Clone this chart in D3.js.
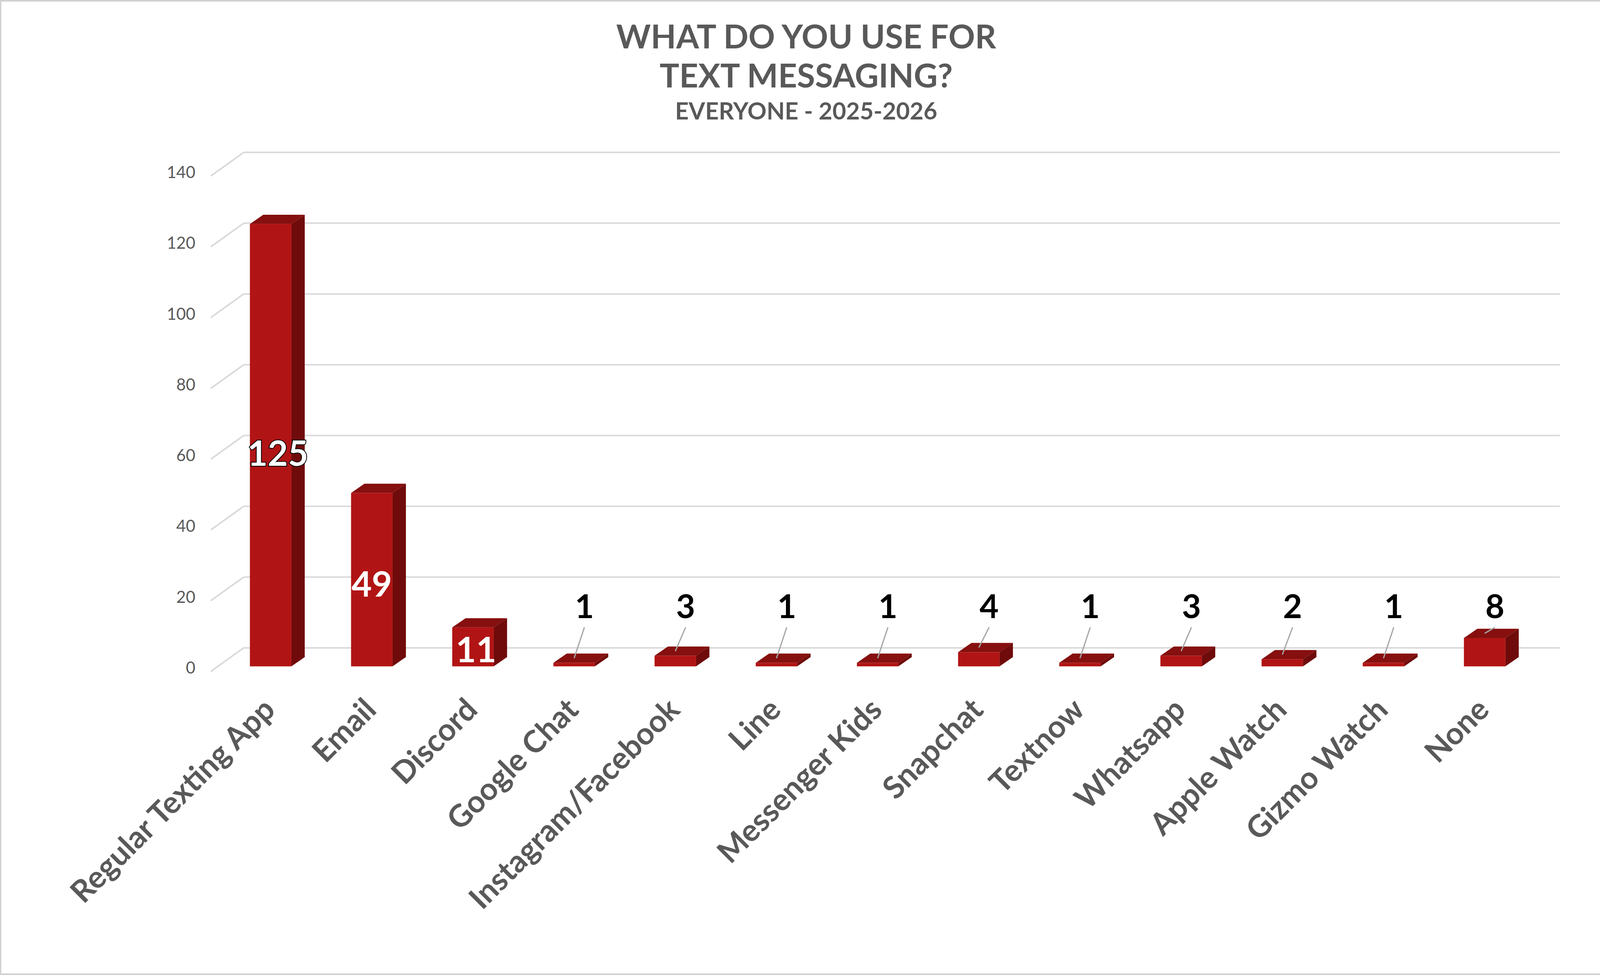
<!DOCTYPE html>
<html><head><meta charset="utf-8">
<script src="https://cdn.jsdelivr.net/npm/d3@7"></script>
<style>html,body{margin:0;padding:0;background:#fff}</style>
</head><body>
<script>
const categories = ["Regular Texting App","Email","Discord","Google Chat","Instagram/Facebook","Line","Messenger Kids","Snapchat","Textnow","Whatsapp","Apple Watch","Gizmo Watch","None"];
const values = [125,49,11,1,3,1,1,4,1,3,2,1,8];
const yTicks = [0,20,40,60,80,100,120,140];
const titleLines = ["WHAT DO YOU USE FOR","TEXT MESSAGING?"];
const subtitle = "EVERYONE - 2025-2026";

const W=1567,H=948;
const svg=d3.select("body").append("svg").attr("width",4125).attr("height",2497).attr("viewBox",`0 0 ${W} ${H}`);
svg.append("rect").attr("x",0.5).attr("y",0.5).attr("width",W-1).attr("height",H-1).attr("fill","#fff").attr("stroke","#d0d0d0").attr("stroke-width",1.5);
const font="Lato, 'DejaVu Sans', sans-serif";
const grey="#595959";

// front plane scale and back wall offset
const y=d3.scaleLinear().domain([0,140]).range([653,171]);
const wallDX=32, wallDY=-23;
const x=d3.scaleBand().domain(categories).range([214,1493]).paddingInner(0.59).paddingOuter(0.295);
const barDX=13, barDY=-9, barShiftY=-5;

// gridlines
const g=svg.append("g");
yTicks.forEach(t=>{
  const yf=y(t);
  g.append("line").attr("x1",205).attr("y1",yf).attr("x2",205+wallDX).attr("y2",yf+wallDY).attr("stroke","#d9d9d9").attr("stroke-width",1.5);
  g.append("line").attr("x1",205+wallDX).attr("y1",yf+wallDY).attr("x2",1517).attr("y2",yf+wallDY).attr("stroke","#d9d9d9").attr("stroke-width",1.5);
  g.append("text").attr("x",190).attr("y",yf+6-4).attr("text-anchor","end").attr("font-family",font).attr("font-size",16).attr("fill",grey).text(t);
});

// bars
const bars=svg.append("g");
categories.forEach((c,i)=>{
  const v=values[i];
  const x0=x(c), x1=x0+x.bandwidth();
  const yb=y(0)+barShiftY, yt=y(v)+barShiftY;
  bars.append("polygon").attr("points",`${x0},${yt} ${x0+barDX},${yt+barDY} ${x1+barDX},${yt+barDY} ${x1},${yt}`).attr("fill","#860F0F");
  bars.append("polygon").attr("points",`${x1},${yt} ${x1+barDX},${yt+barDY} ${x1+barDX},${yb+barDY} ${x1},${yb}`).attr("fill","#700B0B");
  bars.append("rect").attr("x",x0).attr("y",yt).attr("width",x1-x0).attr("height",yb-yt).attr("fill","#B11414");
});

// data labels
const labs=svg.append("g").attr("font-family",font).attr("font-weight","bold");
categories.forEach((c,i)=>{
  const v=values[i];
  const cx=x(c)+x.bandwidth()/2;
  const yt=y(v)+barShiftY;
  if(v>=10){
    const ly = v>100 ? y(v/2)+barShiftY+20 : (v>20 ? yt+(y(0)-yt)/2+14 : y(0)+barShiftY-4);
    const t=labs.append("text").attr("x",cx+ (v>100?7:(v<20?3:0))).attr("y",ly).attr("text-anchor","middle").attr("font-size",34).attr("fill","#fff").text(v);
    if(v>100) t.attr("stroke","#000").attr("stroke-width",1.5).attr("paint-order","stroke");
  } else {
    labs.append("line").attr("x1",cx).attr("y1",yt+barDY/2).attr("x2",cx+10).attr("y2",610).attr("stroke","#a6a6a6").attr("stroke-width",1.2);
    labs.append("text").attr("x",cx+10).attr("y",601).attr("text-anchor","middle").attr("font-size",32).attr("fill","#000").text(v);
  }
});

// category labels
const cl=svg.append("g").attr("font-family",font).attr("font-weight","bold").attr("font-size",30).attr("fill",grey);
categories.forEach(c=>{
  const cx=x(c)+x.bandwidth()/2+6;
  cl.append("text").attr("transform",`translate(${cx},${692}) rotate(-45)`).attr("text-anchor","end").text(c);
});

// title
const tt=svg.append("g").attr("font-family",font).attr("font-weight","bold").attr("fill",grey).attr("text-anchor","middle");
titleLines.forEach((l,i)=>tt.append("text").attr("x",784).attr("y",47+i*38).attr("font-size",32).text(l));
tt.append("text").attr("x",784).attr("y",116).attr("font-size",23).text(subtitle);
</script>
</body></html>
